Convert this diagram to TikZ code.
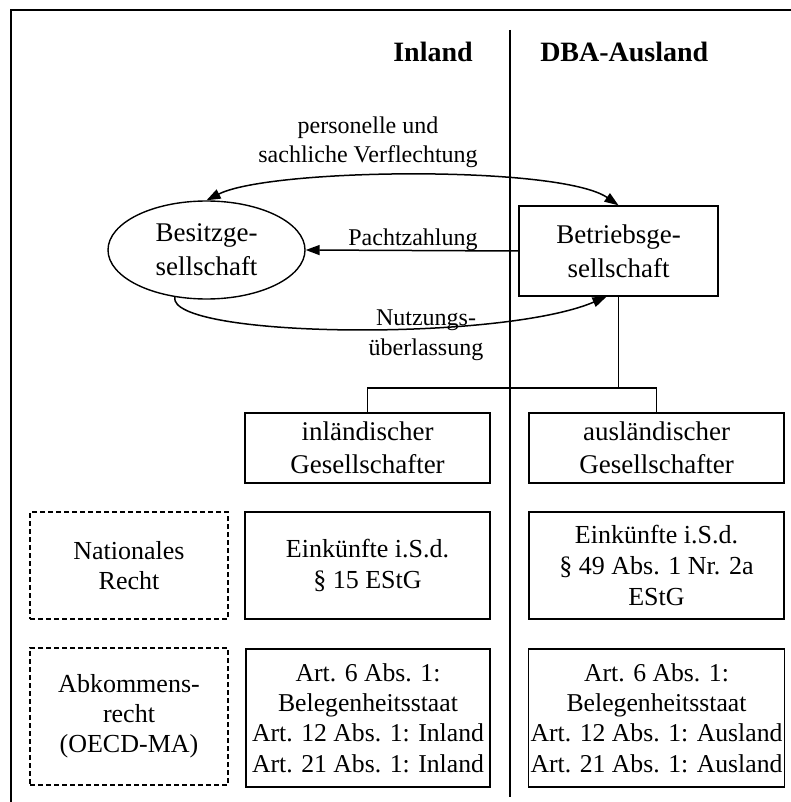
\documentclass[tikz,border=0pt]{standalone}
\usepackage{fontspec}
\setmainfont{Liberation Serif}
\usetikzlibrary{arrows.meta,shapes.geometric}

\tikzset{
  firm/.style={draw, align=center, inner sep=1pt, line width=0.7pt,
    font=\fontsize{13.5}{17}\selectfont},
  partner/.style={draw, align=center, inner sep=1pt, line width=0.7pt,
    minimum height=35pt, font=\fontsize{13.5}{16.5}\selectfont},
  income/.style={draw, align=center, inner sep=1pt, line width=0.7pt,
    font=\fontsize{13}{15.3}\selectfont},
  law/.style={income, dash pattern=on 2.5pt off 1.5pt, line width=0.6pt},
  flow/.style={font=\fontsize{12}{14.5}\selectfont, align=center},
  heading/.style={font=\fontsize{14}{16}\selectfont\bfseries}
}

\begin{document}
\begin{tikzpicture}[x=0.5pt, y=-0.5pt, line width=0.6pt,
    >={Triangle[length=7pt,width=5pt]}]
    \useasboundingbox (0,0) rectangle (791,802);

    % frame and border between the states
    \draw (11,802) -- (11,10) -- (791,10);
    \draw (510,30) -- (510,797);

    % column headings
    \node[heading, anchor=base east] (hdrin) at (480,62) {Inland};
    \node[heading, anchor=base west] (hdraus) at (533,62) {DBA-Ausland};

    % companies
    \node[firm, ellipse, minimum width=98.5pt, minimum height=49pt, inner sep=0pt]
        (besitz) at (206.5,250) {Besitzge-\\sellschaft};
    \node[firm, minimum width=99.5pt, minimum height=45pt]
        (betrieb) at (618.5,251) {Betriebsge-\\sellschaft};

    % relations
    \draw[<->, line width=0.75pt] (besitz.north) .. controls (270,168) and (560,165) .. (betrieb.north);
    \node[flow] (verfl) at (368,142) {personelle und\\sachliche Verflechtung};

    \draw[->, line width=0.75pt] (betrieb.west) -- (besitz.east);
    \node[flow, anchor=base] (pacht) at (413,245) {Pachtzahlung};

    \draw[->, line width=0.75pt] (besitz.236) .. controls (168,338) and (500,342) .. ([xshift=-6pt]betrieb.south);
    \node[flow, font=\fontsize{12}{15}\selectfont] (nutzung) at (426,335) {Nutzungs-\\überlassung};

    % shareholders
    \node[partner, minimum width=122.5pt] (inges) at (367.5,448) {inländischer\\Gesellschafter};
    \node[partner, minimum width=127.5pt] (ausges) at (656.5,448) {ausländischer\\Gesellschafter};

    \coordinate (split) at (618.5,388);
    \draw (betrieb.south) -- (split);
    \draw (split) -| (inges.north);
    \draw (split) -| (ausges.north);

    % national law
    \node[law, minimum width=99pt, minimum height=53.5pt] (natrecht) at (129,565.5) {Nationales\\Recht};
    \node[income, minimum width=122.5pt, minimum height=53.5pt] (einkin) at (367.5,565.5)
        {Einkünfte i.S.d.\\§ 15 EStG};
    \node[income, minimum width=127.5pt, minimum height=53.5pt] (einkaus) at (656.5,565.5)
        {Einkünfte i.S.d.\\§ 49 Abs. 1 Nr. 2a\\EStG};

    % treaty law
    \node[law, minimum width=99pt, minimum height=68.5pt, font=\fontsize{13}{15}\selectfont]
        (abkrecht) at (129,716.5) {Abkommens-\\recht\\(OECD-MA)};
    \node[income, minimum width=122pt, minimum height=69pt, font=\fontsize{12.85}{15.2}\selectfont]
        (artin) at (368,718) {Art. 6 Abs. 1:\\Belegenheitsstaat\\Art. 12 Abs. 1: Inland\\Art. 21 Abs. 1: Inland};
    \node[income, minimum width=127.5pt, minimum height=69pt, font=\fontsize{12.85}{15.2}\selectfont]
        (artaus) at (656.5,718) {Art. 6 Abs. 1:\\Belegenheitsstaat\\Art. 12 Abs. 1: Ausland\\Art. 21 Abs. 1: Ausland};
\end{tikzpicture}
\end{document}
